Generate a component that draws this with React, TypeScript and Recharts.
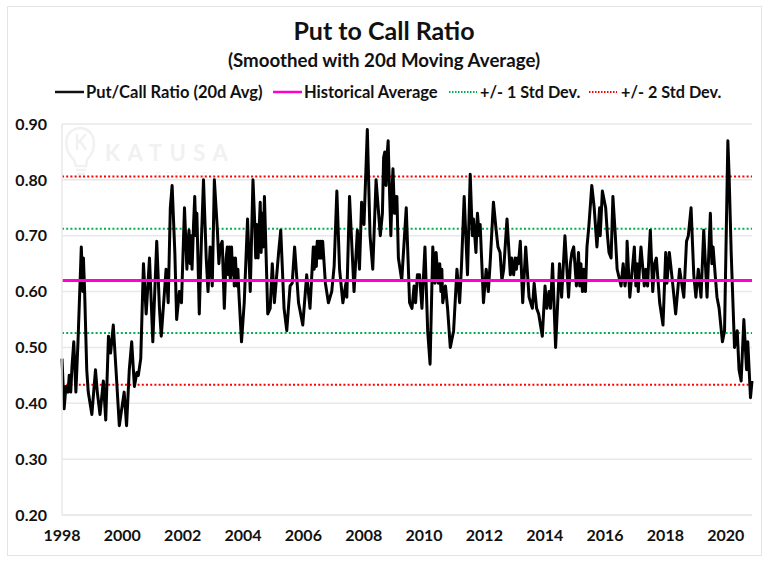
import { CartesianGrid, Line, LineChart, ReferenceLine, XAxis, YAxis } from "recharts";

const FONT = "Lato, sans-serif";

const years = [
  1998.0, 1998.07, 1998.13, 1998.2, 1998.24, 1998.29, 1998.33, 1998.39, 1998.46, 1998.53, 1998.64, 1998.69, 1998.71, 1998.75, 1998.82, 1998.87, 1998.93, 1998.99,
  1999.11, 1999.17, 1999.26, 1999.37, 1999.45, 1999.54, 1999.61, 1999.7, 1999.79, 1999.9, 1999.98,
  2000.06, 2000.14, 2000.23, 2000.31, 2000.4, 2000.48, 2000.53, 2000.61, 2000.7, 2000.79, 2000.9,
  2001.01, 2001.14, 2001.23, 2001.29, 2001.45, 2001.52, 2001.59, 2001.65, 2001.74, 2001.8, 2001.89, 2001.96,
  2002.06, 2002.14, 2002.18, 2002.21, 2002.25, 2002.28, 2002.31, 2002.36, 2002.4, 2002.44, 2002.47, 2002.55, 2002.62, 2002.69, 2002.78, 2002.84, 2002.91, 2002.98,
  2003.05, 2003.15, 2003.2, 2003.24, 2003.31, 2003.38, 2003.44, 2003.48, 2003.51, 2003.55, 2003.58, 2003.62, 2003.65, 2003.68, 2003.71, 2003.75, 2003.79, 2003.83, 2003.86, 2003.95,
  2004.04, 2004.15, 2004.24, 2004.33, 2004.39, 2004.42, 2004.46, 2004.5, 2004.54, 2004.57, 2004.6, 2004.63, 2004.67, 2004.71, 2004.82, 2004.9, 2004.97,
  2005.04, 2005.18, 2005.25, 2005.36, 2005.45, 2005.56, 2005.63, 2005.71, 2005.84, 2005.98,
  2006.11, 2006.22, 2006.33, 2006.36, 2006.4, 2006.43, 2006.46, 2006.49, 2006.52, 2006.55, 2006.58, 2006.61, 2006.64, 2006.73, 2006.83, 2006.94,
  2007.02, 2007.11, 2007.2, 2007.31, 2007.41, 2007.44, 2007.53, 2007.68, 2007.79, 2007.86, 2007.93,
  2008.01, 2008.12, 2008.21, 2008.3, 2008.41, 2008.55, 2008.62, 2008.66, 2008.7, 2008.74, 2008.77, 2008.81, 2008.85, 2008.9, 2008.94, 2008.97,
  2009.02, 2009.05, 2009.08, 2009.1, 2009.15, 2009.26, 2009.41, 2009.52, 2009.6, 2009.67, 2009.72, 2009.78, 2009.85, 2009.93,
  2010.03, 2010.12, 2010.2, 2010.29, 2010.36, 2010.4, 2010.47, 2010.52, 2010.56, 2010.59, 2010.62, 2010.71, 2010.78, 2010.87, 2010.98,
  2011.09, 2011.18, 2011.24, 2011.33, 2011.44, 2011.53, 2011.6, 2011.64, 2011.72, 2011.77, 2011.83, 2011.86, 2011.97,
  2012.06, 2012.13, 2012.19, 2012.3, 2012.39, 2012.45, 2012.52, 2012.58, 2012.64, 2012.75, 2012.86, 2012.9, 2012.97,
  2013.02, 2013.06, 2013.1, 2013.13, 2013.19, 2013.27, 2013.37, 2013.48, 2013.59, 2013.65, 2013.73, 2013.8, 2013.92,
  2014.01, 2014.07, 2014.14, 2014.19, 2014.26, 2014.36, 2014.49, 2014.56, 2014.67, 2014.79, 2014.85, 2014.9, 2014.96,
  2015.05, 2015.12, 2015.16, 2015.2, 2015.25, 2015.3, 2015.35, 2015.4, 2015.46, 2015.56, 2015.64, 2015.73, 2015.82, 2015.84, 2015.91,
  2016.02, 2016.08, 2016.13, 2016.2, 2016.26, 2016.34, 2016.4, 2016.53, 2016.6, 2016.66, 2016.71, 2016.73, 2016.82, 2016.97,
  2017.02, 2017.06, 2017.1, 2017.15, 2017.19, 2017.3, 2017.35, 2017.41, 2017.45, 2017.5, 2017.58, 2017.64, 2017.7, 2017.81, 2017.92,
  2018.01, 2018.05, 2018.13, 2018.23, 2018.34, 2018.47, 2018.61, 2018.7, 2018.76, 2018.85, 2018.94,
  2019.01, 2019.09, 2019.18, 2019.27, 2019.38, 2019.49, 2019.54, 2019.58, 2019.65, 2019.71, 2019.78, 2019.89, 2019.96,
  2020.07, 2020.11, 2020.18, 2020.29, 2020.38, 2020.44, 2020.51, 2020.6, 2020.69, 2020.73, 2020.82, 2020.87,
];

const ratios = [
  0.48, 0.39, 0.43, 0.42, 0.45, 0.42, 0.465, 0.51, 0.42, 0.51, 0.68, 0.6, 0.66, 0.6, 0.46, 0.42, 0.4, 0.38,
  0.46, 0.42, 0.38, 0.44, 0.37, 0.52, 0.49, 0.54, 0.46, 0.36, 0.39,
  0.42, 0.36, 0.46, 0.51, 0.43, 0.455, 0.45, 0.48, 0.65, 0.56, 0.66,
  0.51, 0.69, 0.57, 0.52, 0.64, 0.58, 0.75, 0.79, 0.67, 0.55, 0.6, 0.58,
  0.75, 0.64, 0.69, 0.71, 0.65, 0.7, 0.64, 0.72, 0.77, 0.7, 0.74, 0.56, 0.69, 0.8, 0.66, 0.6, 0.68, 0.61,
  0.8, 0.71, 0.65, 0.68, 0.69, 0.57, 0.66, 0.68, 0.63, 0.68, 0.62, 0.68, 0.63, 0.66, 0.61, 0.66, 0.61, 0.64, 0.6, 0.51,
  0.58, 0.73, 0.6, 0.8, 0.72, 0.66, 0.72, 0.66, 0.72, 0.76, 0.67, 0.74, 0.68, 0.77, 0.56, 0.57, 0.65,
  0.58, 0.67, 0.71, 0.57, 0.53, 0.61, 0.615, 0.68, 0.58, 0.54,
  0.63, 0.57, 0.68, 0.64, 0.68, 0.645, 0.69, 0.66, 0.69, 0.66, 0.69, 0.66, 0.69, 0.615, 0.58, 0.6,
  0.645, 0.78, 0.64, 0.58, 0.615, 0.59, 0.77, 0.6, 0.71, 0.64, 0.76,
  0.72, 0.89, 0.7, 0.64, 0.8, 0.7, 0.74, 0.84, 0.85, 0.79, 0.84, 0.87, 0.79, 0.7, 0.78, 0.82,
  0.74, 0.77, 0.74, 0.77, 0.66, 0.62, 0.75, 0.58, 0.57, 0.61, 0.58, 0.63, 0.63, 0.57,
  0.68, 0.53, 0.47, 0.68, 0.615, 0.67, 0.615, 0.65, 0.6, 0.64, 0.58, 0.61, 0.57, 0.5, 0.53,
  0.64, 0.58, 0.645, 0.77, 0.63, 0.81, 0.7, 0.73, 0.67, 0.74, 0.7, 0.72, 0.58,
  0.64, 0.6, 0.65, 0.76, 0.71, 0.68, 0.67, 0.62, 0.64, 0.73, 0.63, 0.66, 0.63,
  0.66, 0.64, 0.66, 0.65, 0.69, 0.58, 0.68, 0.59, 0.57, 0.615, 0.57, 0.56, 0.52,
  0.61, 0.57, 0.6, 0.57, 0.65, 0.5, 0.65, 0.59, 0.7, 0.59, 0.65, 0.67, 0.68,
  0.61, 0.67, 0.61, 0.65, 0.6, 0.64, 0.6, 0.68, 0.715, 0.79, 0.75, 0.68, 0.75, 0.7, 0.78,
  0.75, 0.7, 0.67, 0.66, 0.77, 0.7, 0.64, 0.61, 0.65, 0.61, 0.63, 0.69, 0.59, 0.68,
  0.61, 0.65, 0.6, 0.65, 0.68, 0.61, 0.64, 0.61, 0.66, 0.71, 0.6, 0.65, 0.66, 0.58, 0.54,
  0.67, 0.615, 0.67, 0.62, 0.56, 0.64, 0.59, 0.69, 0.7, 0.75, 0.63,
  0.59, 0.64, 0.59, 0.71, 0.59, 0.74, 0.65, 0.68, 0.63, 0.59, 0.57, 0.51, 0.53,
  0.87, 0.81, 0.67, 0.5, 0.53, 0.46, 0.44, 0.55, 0.46, 0.51, 0.41, 0.44,
];

const yTicks = [0.2, 0.3, 0.4, 0.5, 0.6, 0.7, 0.8, 0.9];
const xTicks = [1998, 2000, 2002, 2004, 2006, 2008, 2010, 2012, 2014, 2016, 2018, 2020];

const historicalAverage = 0.62;
const oneStdDev = [0.526, 0.7125];
const twoStdDev = [0.433, 0.806];

const legendLabels = ["Put/Call Ratio (20d Avg)", "Historical Average", "+/- 1 Std Dev.", "+/- 2 Std Dev."];

const chartData = years.map((year, i) => ({ year, ratio: ratios[i] }));

function ChartLegend() {
  const text = { fontFamily: FONT, fontWeight: 700, fontSize: 16.5, fill: "#111" };
  return (
    <svg width={768} height={30} style={{ position: "absolute", left: 0, top: 78 }}>
      <line x1={55} x2={84} y1={14} y2={14} stroke="#111" strokeWidth={2.5} />
      <text x={86} y={20} {...text}>{legendLabels[0]}</text>
      <line x1={273} x2={302} y1={14} y2={14} stroke="#ff00cc" strokeWidth={2.5} />
      <text x={304} y={20} {...text}>{legendLabels[1]}</text>
      <line x1={449} x2={477} y1={14} y2={14} stroke="#00b050" strokeWidth={2} strokeDasharray="1.5 1.5" />
      <text x={480} y={20} fontSize={16.2} fontFamily={FONT} fontWeight={700} fill="#111">{legendLabels[2]}</text>
      <line x1={589} x2={617} y1={14} y2={14} stroke="#ff0000" strokeWidth={2} strokeDasharray="1.5 1.5" />
      <text x={621} y={20} fontSize={16.2} fontFamily={FONT} fontWeight={700} fill="#111">{legendLabels[3]}</text>
    </svg>
  );
}

function Watermark() {
  return (
    <svg width={240} height={80} style={{ position: "absolute", left: 60, top: 120 }}>
      <g fill="none" stroke="#f1f1f1" strokeWidth={2.5}>
        <path d="M14 40 C2 28 4 9 20 8 C36 9 38 28 27 40 L26 46 H16 Z" />
        <path d="M16 50 H26 M17 54 H25" />
        <path d="M17 30 L17 14 M17 24 L26 14 M20 21 L26 30" />
      </g>
      <text x={45} y={41} fontFamily={FONT} fontWeight={700} fontSize={22} letterSpacing={7.5} fill="#f1f1f1">KATUSA</text>
      <text x={95} y={59} fontFamily={FONT} fontSize={10} letterSpacing={3.4} fill="#f4f4f4">RESEARCH</text>
    </svg>
  );
}

export default function App() {
  const tick = { fontFamily: FONT, fontWeight: 700, fontSize: 16, fill: "#111" };
  return (
    <div style={{ position: "absolute", left: 0, top: 0, width: 768, height: 564, background: "#fff", overflow: "hidden" }}>
      <div style={{ position: "absolute", left: 7, top: 6, width: 753, height: 548, border: "1px solid #e4e4e4" }} />
      <div style={{ position: "absolute", left: 0, top: 15, width: 768, textAlign: "center", fontFamily: FONT, fontWeight: 700, fontSize: 25, color: "#111" }}>
        Put to Call Ratio
      </div>
      <div style={{ position: "absolute", left: 0, top: 49, width: 768, textAlign: "center", fontFamily: FONT, fontWeight: 700, fontSize: 18.7, color: "#111" }}>
        (Smoothed with 20d Moving Average)
      </div>
      <ChartLegend />
      <Watermark />
      <div style={{ position: "absolute", left: 0, top: 0 }}>
        <LineChart width={768} height={564} data={chartData} margin={{ top: 124, right: 16, bottom: 0, left: 0 }}>
          <CartesianGrid vertical={false} stroke="#e8e8e8" strokeWidth={1.5} />
          <XAxis
            type="number"
            dataKey="year"
            domain={[1998, 2020.87]}
            ticks={xTicks}
            tick={tick}
            tickLine={false}
            axisLine={{ stroke: "#e8e8e8", strokeWidth: 1.5 }}
            tickMargin={9}
            height={49}
          />
          <YAxis
            type="number"
            domain={[0.2, 0.9]}
            ticks={yTicks}
            tick={tick}
            tickFormatter={(v: number) => v.toFixed(2)}
            tickLine={false}
            axisLine={{ stroke: "#e8e8e8", strokeWidth: 1.5 }}
            tickMargin={9}
            width={62}
          />
          <ReferenceLine y={twoStdDev[1]} stroke="#ff0000" strokeWidth={2} strokeDasharray="2 2.2" />
          <ReferenceLine y={oneStdDev[1]} stroke="#00b050" strokeWidth={2} strokeDasharray="2 2.2" />
          <ReferenceLine y={oneStdDev[0]} stroke="#00b050" strokeWidth={2} strokeDasharray="2 2.2" />
          <ReferenceLine y={twoStdDev[0]} stroke="#ff0000" strokeWidth={2} strokeDasharray="2 2.2" />
          <Line dataKey="ratio" type="linear" stroke="#000" strokeWidth={3} dot={false} isAnimationActive={false} strokeLinejoin="round" />
          <ReferenceLine y={historicalAverage} stroke="#ff00d0" strokeWidth={3} />
        </LineChart>
      </div>
    </div>
  );
}
